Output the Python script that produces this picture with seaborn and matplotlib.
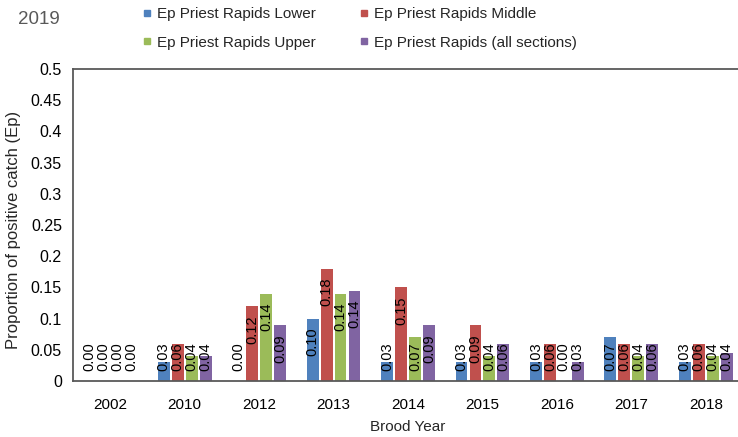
import numpy as np
import pandas as pd
import matplotlib
matplotlib.use("Agg")
import matplotlib.pyplot as plt
import seaborn as sns
from matplotlib.lines import Line2D

years = ["2002", "2010", "2012", "2013", "2014", "2015", "2016", "2017", "2018"]
series = ["Ep Priest Rapids Lower", "Ep Priest Rapids Middle",
          "Ep Priest Rapids Upper", "Ep Priest Rapids (all sections)"]
lower = [0.00, 0.03, 0.00, 0.10, 0.03, 0.03, 0.03, 0.07, 0.03]
middle = [0.00, 0.06, 0.12, 0.18, 0.15, 0.09, 0.06, 0.06, 0.06]
upper = [0.00, 0.04, 0.14, 0.14, 0.07, 0.04, 0.00, 0.04, 0.04]
allsec = [0.00, 0.04, 0.09, 0.145, 0.09, 0.06, 0.03, 0.06, 0.045]
colors = ["#4F81BD", "#C0504D", "#9BBB59", "#8064A2"]
yticks = [0, 0.05, 0.1, 0.15, 0.2, 0.25, 0.3, 0.35, 0.4, 0.45, 0.5]

df = pd.DataFrame({
    "year": years * 4,
    "series": np.repeat(series, len(years)),
    "value": lower + middle + upper + allsec,
})

sns.set_theme(style="white")
plt.rcParams["font.family"] = ["Liberation Sans", "DejaVu Sans"]

fig = plt.figure(figsize=(7.38, 4.37), dpi=100)
ax = fig.add_axes([73 / 738, 1 - 381 / 437, (743 - 73) / 738, (381 - 69) / 437])

sns.barplot(data=df, x="year", y="value", hue="series", hue_order=series,
            palette=colors, width=0.75, gap=0.15, order=years, ax=ax,
            legend=False, saturation=1, linewidth=0, errorbar=None)

# value labels
for cont in ax.containers:
    for bar in cont:
        h = bar.get_height()
        xc = bar.get_x() + bar.get_width() / 2
        ytop = max(h - 0.0145, 0.0625)
        ax.text(xc, ytop, f"{h:.2f}", rotation=90, ha="center", va="top",
                fontsize=10.5, color="black")

ax.set_ylim(0, 0.5)
ax.set_xlim(-0.5, 8.5)
ax.set_yticks(yticks)
ax.set_yticklabels([f"{v:g}" for v in yticks])
ax.tick_params(axis="y", length=0, pad=8, labelsize=11.5, labelcolor="#000000")
ax.tick_params(axis="x", length=0, pad=12, labelsize=11, labelcolor="#000000")
ax.set_xlabel("Brood Year", fontsize=11, labelpad=6)
ax.set_ylabel("Proportion of positive catch (Ep)", fontsize=12, labelpad=6)
ax.yaxis.set_label_coords(-0.077, 0.485)

for s in ["top", "left", "bottom", "right"]:
    ax.spines[s].set_visible(True)
    ax.spines[s].set_color("#595959")
    ax.spines[s].set_linewidth(1.3)

fig.text(18 / 738, 1 - 19 / 437, "2019", fontsize=13.5, color="#595959",
         ha="left", va="center")

handles = [Line2D([], [], marker="s", linestyle="none", markersize=4.5,
                  markerfacecolor=c, markeredgecolor=c) for c in colors]
order = [0, 2, 1, 3]
leg = fig.legend([handles[i] for i in order], [series[i] for i in order],
                 ncol=2, loc="upper left", bbox_to_anchor=(142 / 738, 1 - 7 / 437),
                 frameon=False, fontsize=11, handlelength=0.6,
                 handletextpad=0.4, columnspacing=2.8, labelspacing=0.95,
                 borderpad=0, borderaxespad=0)

fig.savefig("out.png", dpi=100)
